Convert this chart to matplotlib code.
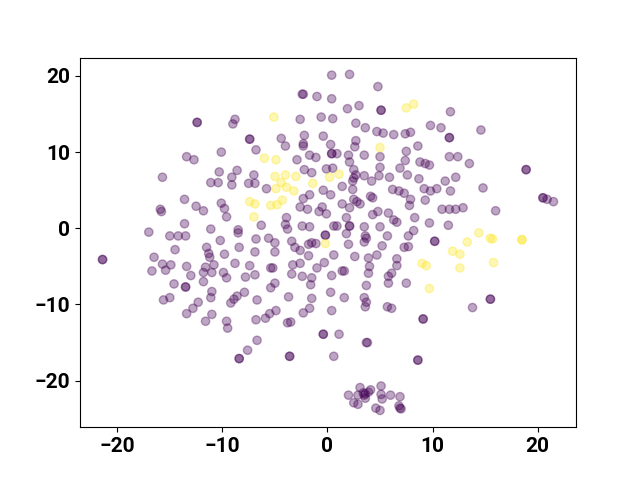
import matplotlib
matplotlib.use("Agg")
import matplotlib.pyplot as plt
import numpy as np

# t-SNE embedding, class 0 (purple) — left group
purple_left = [
    (-12.4, 13.9), (-12.4, 13.9), (-13.4, 9.4), (-12.7, 9.0), (-15.7, 6.7), (-11.1, 6.0), (-10.4, 6.0),
    (-13.6, 3.8), (-12.5, 2.9), (-11.8, 2.3), (-15.9, 2.5), (-15.8, 2.2), (-13.6, 0.6), (-17.0, -0.5),
    (-15.0, -1.0), (-14.2, -1.0), (-13.5, -1.0), (-14.5, -2.8), (-16.5, -3.8), (-15.7, -4.7), (-14.9, -4.8),
    (-15.4, -5.5), (-16.7, -5.6), (-13.4, -5.0), (-11.6, -5.1), (-11.8, -5.8), (-13.0, -6.2), (-14.6, -7.3),
    (-13.5, -7.7), (-13.5, -7.7), (-11.8, -7.0), (-15.6, -9.4), (-15.0, -9.1), (-12.3, -9.7), (-13.4, -11.2),
    (-12.8, -10.5), (-11.6, -12.2), (-11.0, -11.3), (-21.4, -4.1), (-21.4, -4.1),
]
# class 0 — upper middle
purple_top = [
    (0.4, 20.1), (-2.4, 17.6), (-2.3, 17.6), (-1.0, 17.3), (0.4, 17.0), (-8.8, 14.3), (-9.0, 13.7),
    (-2.6, 14.3), (-0.6, 14.6), (0.5, 14.4), (-7.4, 11.7), (-7.4, 11.7), (-4.4, 11.8), (-4.0, 10.8),
    (-2.2, 12.2), (-2.3, 11.1), (-2.3, 10.8), (-0.4, 12.1), (0.3, 11.0), (0.4, 9.8), (0.4, 9.8),
    (-6.8, 10.3), (-10.1, 10.0), (-2.9, 9.0), (-1.7, 9.6), (-1.1, 9.3), (-2.2, 7.7), (-1.5, 7.3),
    (-0.1, 7.8), (0.5, 7.9), (-10.3, 7.4), (-8.6, 7.6), (-9.1, 6.7), (-7.0, 7.0),
]
# class 0 — center left
purple_center = [
    (-9.1, 5.7), (-7.5, 5.9), (-6.9, 5.9), (-5.8, 5.2), (-1.7, 4.4), (-2.3, 3.9), (-2.6, 2.8), (-1.9, 2.5),
    (-0.4, 5.0), (0.3, 4.4), (-0.5, 2.8), (-0.8, 2.2), (-0.1, 1.9), (-10.1, 3.3), (-9.8, 2.6), (-9.6, 1.5),
    (-3.9, 1.4), (-4.0, 0.5), (-3.8, -0.1), (-6.3, 0.4), (-2.4, 0.3), (-1.7, 0.2), (-0.2, -0.9), (-0.2, -0.9),
    (0.6, 0.3), (-11.1, -0.1), (-8.5, -0.2), (-8.5, -0.6), (-6.8, -1.4), (-5.6, -1.3), (-5.0, -1.9),
    (-5.0, -3.1), (-10.2, -1.6), (-8.4, -2.5), (-11.5, -2.5), (-11.3, -3.3), (-11.2, -3.8), (-9.8, -3.4),
    (-6.9, -3.1), (-3.4, -1.7), (-3.1, -2.5), (-2.6, -2.9), (-1.8, -3.6), (-1.5, -1.9), (-1.8, -2.1),
    (-1.1, -2.0), (0.6, -3.5), (-8.8, -4.6), (-7.4, -4.9), (-5.4, -5.2), (-5.2, -5.2), (-3.3, -4.8),
    (-2.6, -4.6), (-0.3, -4.5), (-1.0, -5.2), (-11.0, -5.8), (-10.8, -4.8), (-9.9, -5.8), (-9.6, -6.5),
    (-6.9, -6.1), (-7.8, -6.4), (-3.4, -6.0), (-2.4, -6.3), (-1.6, -7.4), (-1.5, -6.5), (0.4, -6.2),
    (-5.0, -7.2), (-5.4, -7.8), (-7.9, -8.4), (-8.6, -8.9), (-8.9, -9.3), (-9.2, -9.8), (-11.0, -8.3),
    (-11.1, -9.1), (-3.7, -9.0), (-1.5, -9.2), (0.3, -8.4),
]
# class 0 — lower part
purple_bottom = [
    (-6.7, -9.4), (-9.6, -12.2), (-9.5, -13.1), (-6.7, -14.7), (-7.6, -16.0), (-8.4, -17.1), (-8.4, -17.1),
    (-6.8, -12.0), (-5.9, -11.8), (-5.5, -11.2), (-4.9, -10.8), (-3.8, -12.4), (-3.5, -12.3), (-1.7, -10.5),
    (-2.3, -11.1), (0.4, -10.8), (-0.4, -13.9), (-0.4, -13.9), (-3.6, -16.8), (-3.6, -16.8), (0.6, -16.8),
    (1.6, -9.1), (3.5, -9.1), (3.7, -9.7), (3.6, -10.3), (5.7, -10.3), (6.1, -10.5), (9.1, -11.9),
    (9.1, -11.9), (1.1, -13.9), (3.7, -15.0), (3.8, -15.0), (8.6, -17.3), (8.6, -17.3),
]
# class 0 — isolated bottom cluster
purple_cluster = [
    (2.0, -21.9), (3.1, -20.9), (4.1, -21.2), (5.1, -20.7), (3.4, -21.6), (3.6, -21.7), (3.9, -21.5),
    (3.5, -21.9), (2.9, -21.9), (5.1, -21.8), (5.2, -22.4), (6.0, -21.9), (6.9, -22.1), (2.5, -22.9),
    (2.9, -23.1), (3.6, -22.3), (4.6, -23.6), (5.0, -23.9), (6.8, -23.3), (6.9, -23.6), (7.0, -23.7),
]
# class 0 — right part
purple_right = [
    (15.5, -9.3), (15.5, -9.3), (13.8, -10.4), (14.8, 5.3), (20.5, 4.0), (20.5, 4.0), (20.9, 3.8),
    (21.5, 3.5), (12.9, 2.7), (16.0, 2.3), (14.6, 12.9), (12.4, 9.4), (13.5, 8.5), (18.9, 7.7), (18.9, 7.7),
    (12.2, 6.7), (2.1, 20.2), (4.8, 18.6), (1.9, 15.7), (3.0, 16.1), (5.1, 15.5), (5.1, 15.5), (11.7, 15.3),
    (2.7, 13.8), (3.6, 13.2), (4.7, 12.7), (5.3, 12.5), (6.3, 12.3), (7.4, 12.4), (7.9, 12.6), (9.8, 13.5),
    (10.8, 13.2), (11.6, 11.9), (11.6, 11.9), (2.7, 11.5), (2.6, 10.7), (8.6, 10.8), (7.5, 10.1), (0.9, 9.8),
    (2.0, 9.6), (2.1, 8.7), (3.5, 9.6), (5.0, 9.4), (7.4, 8.9), (8.8, 8.7), (9.3, 8.5), (9.7, 8.3),
    (11.6, 9.4), (2.5, 7.7), (2.7, 7.0), (2.5, 6.6), (5.0, 8.0), (4.9, 6.9), (3.5, 6.9), (5.9, 6.7),
    (6.9, 7.9), (7.6, 7.0), (8.7, 6.5), (11.2, 6.2),
]
# class 0 — center right
purple_center_right = [
    (2.4, 6.2), (4.2, 6.2), (11.7, 4.9), (1.4, 5.5), (2.4, 5.1), (4.1, 4.2), (4.3, 4.0), (2.5, 3.8),
    (2.8, 3.5), (6.2, 5.1), (6.8, 4.9), (7.3, 4.6), (7.9, 3.8), (7.8, 3.0), (9.2, 5.2), (9.8, 4.9),
    (10.4, 5.2), (9.3, 3.7), (1.4, 3.2), (2.1, 2.7), (10.9, 2.5), (11.6, 2.5), (12.2, 2.5), (3.1, 3.2),
    (4.8, 2.2), (4.3, 1.8), (5.8, 2.0), (6.3, 1.1), (6.6, 0.8), (1.8, 1.4), (0.9, 0.3), (2.1, 0.3),
    (2.1, 0.3), (3.5, 0.2), (5.0, 0.2), (8.3, 1.4), (9.7, 0.7), (11.5, 0.4), (8.2, -0.3), (1.8, -0.7),
    (3.6, -1.0), (3.7, -1.3), (5.7, -1.0), (7.7, -1.0), (2.0, -2.1), (3.5, -1.8), (5.2, -2.3), (7.3, -2.5),
    (7.7, -2.4), (10.2, -1.7), (10.2, -1.7), (2.6, -3.7), (3.9, -3.9), (4.0, -5.0), (3.9, -5.9),
    (4.7, -3.5), (6.6, -4.0), (6.6, -4.9), (6.1, -5.9), (5.8, -6.3), (1.4, -5.6), (1.6, -5.6), (3.7, -7.5),
    (5.8, -7.2), (7.5, -7.2),
]
# class 1 (yellow)
yellow_points = [
    (-5.1, 14.6), (-6.0, 9.2), (-4.9, 9.0), (-5.0, 6.8), (-4.0, 7.0), (-3.0, 6.8), (0.2, 6.7), (1.1, 7.1),
    (-4.4, 6.0), (-4.9, 5.2), (-3.9, 5.4), (-3.2, 4.9), (-1.4, 5.9), (-7.4, 3.5), (-6.9, 3.2), (-5.4, 3.0),
    (-4.8, 3.1), (-4.3, 3.7), (-7.0, 1.5), (-0.2, -2.0), (7.5, 15.8), (8.2, 16.3), (5.0, 10.6),
    (14.4, -0.6), (13.3, -1.8), (15.5, -1.3), (15.7, -1.4), (18.5, -1.5), (18.5, -1.5), (12.6, -3.4),
    (12.6, -5.2), (15.8, -4.5), (9.0, -4.6), (9.4, -4.9), (9.7, -7.9), (11.9, -3.0),
]

purple = (purple_left + purple_top + purple_center + purple_bottom
          + purple_cluster + purple_right + purple_center_right)
xs = np.array([p[0] for p in purple] + [p[0] for p in yellow_points])
ys = np.array([p[1] for p in purple] + [p[1] for p in yellow_points])
labels = np.array([0] * len(purple) + [1] * len(yellow_points))

plt.rcParams['font.family'] = ['Roboto', 'DejaVu Sans']
fig, ax = plt.subplots(figsize=(6.4, 4.8), dpi=100)
ax.scatter(xs, ys, c=labels, cmap='viridis', alpha=0.35)
ax.set_xticks([-20, -10, 0, 10, 20])
ax.set_yticks([-20, -10, 0, 10, 20])
for lab in ax.get_xticklabels() + ax.get_yticklabels():
    lab.set_fontsize(15)
    lab.set_fontweight('bold')
fig.savefig('out.png', dpi=100)
